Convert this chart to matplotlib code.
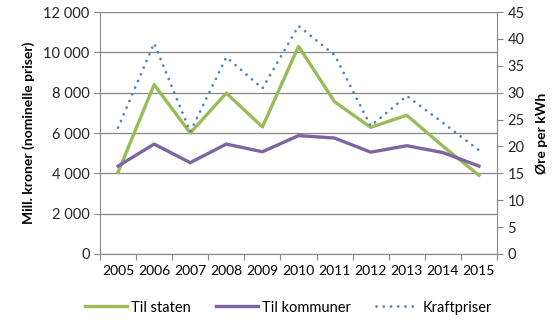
import matplotlib
matplotlib.use("Agg")
import matplotlib.pyplot as plt
import numpy as np

plt.rcParams['font.family'] = ['Lato', 'DejaVu Sans']

years = ["2005", "2006", "2007", "2008", "2009", "2010",
         "2011", "2012", "2013", "2014", "2015"]
til_staten = [4050, 8400, 6000, 7980, 6300, 10300, 7550, 6280, 6880, 5350, 3900]
til_kommuner = [4360, 5450, 4530, 5450, 5070, 5870, 5750, 5050, 5370, 5030, 4360]
kraftpriser = [23.5, 39.2, 22.7, 36.6, 30.8, 42.4, 37.0, 23.8, 29.4, 24.4, 19.3]

green = "#9BBB59"
purple = "#8064A2"
blue = "#4F81BD"
grey = "#878787"

fig = plt.figure(figsize=(5.6, 3.22), dpi=100)
ax = fig.add_axes([0.1786, 0.2112, 0.8875 - 0.1786, 0.9627 - 0.2112])
ax2 = ax.twinx()

x = np.arange(len(years))
l1, = ax.plot(x, til_staten, color=green, lw=2.4, label="Til staten", zorder=3)
l2, = ax.plot(x, til_kommuner, color=purple, lw=2.4, label="Til kommuner", zorder=3)
l3, = ax2.plot(x, kraftpriser, color=blue, lw=2.0, linestyle=(0, (0.01, 2.6)),
               dash_capstyle='round', label="Kraftpriser")

ax.set_xlim(-0.5, len(years) - 0.5)
ax.set_ylim(0, 12000)
ax2.set_ylim(0, 45)

ax.set_yticks(range(0, 12001, 2000))
ax.set_yticklabels([f"{v:,}".replace(",", " ") for v in range(0, 12001, 2000)])
ax2.set_yticks(range(0, 46, 5))

# category boundaries as ticks, labels in the middle
ax.set_xticks(np.arange(-0.5, len(years), 1.0))
ax.set_xticklabels([])
ax.set_xticks(x, minor=True)
ax.set_xticklabels(years, minor=True)
ax.tick_params(axis='x', which='minor', length=0, pad=8)
ax.tick_params(axis='x', which='major', length=4, color=grey)

ax.grid(axis='y', color=grey, lw=0.9)
ax.set_axisbelow(True)

for a in (ax, ax2):
    a.spines['top'].set_visible(False)
    for s in ('left', 'right', 'bottom'):
        a.spines[s].set_color(grey)
    a.tick_params(axis='y', length=4, color=grey, labelsize=10.5, colors='#262626')
    a.tick_params(axis='x', labelsize=10.5, colors='#262626')
ax.tick_params(axis='x', which='both', color=grey)
ax.spines['right'].set_visible(False)
ax2.spines['left'].set_visible(False)
ax2.spines['bottom'].set_visible(False)

ax.set_ylabel("Mill. kroner (nominelle priser)", fontsize=10, fontweight='bold', labelpad=6)
ax2.set_ylabel("Øre per kWh", fontsize=10, fontweight='bold', labelpad=8)

fig.legend([l1, l2, l3], [l.get_label() for l in (l1, l2, l3)],
           loc='center', bbox_to_anchor=(0.515, 0.045), ncol=3, frameon=False,
           fontsize=10.5, handlelength=2.9, columnspacing=1.7, handletextpad=0.3)

fig.savefig("out.png", dpi=100)
